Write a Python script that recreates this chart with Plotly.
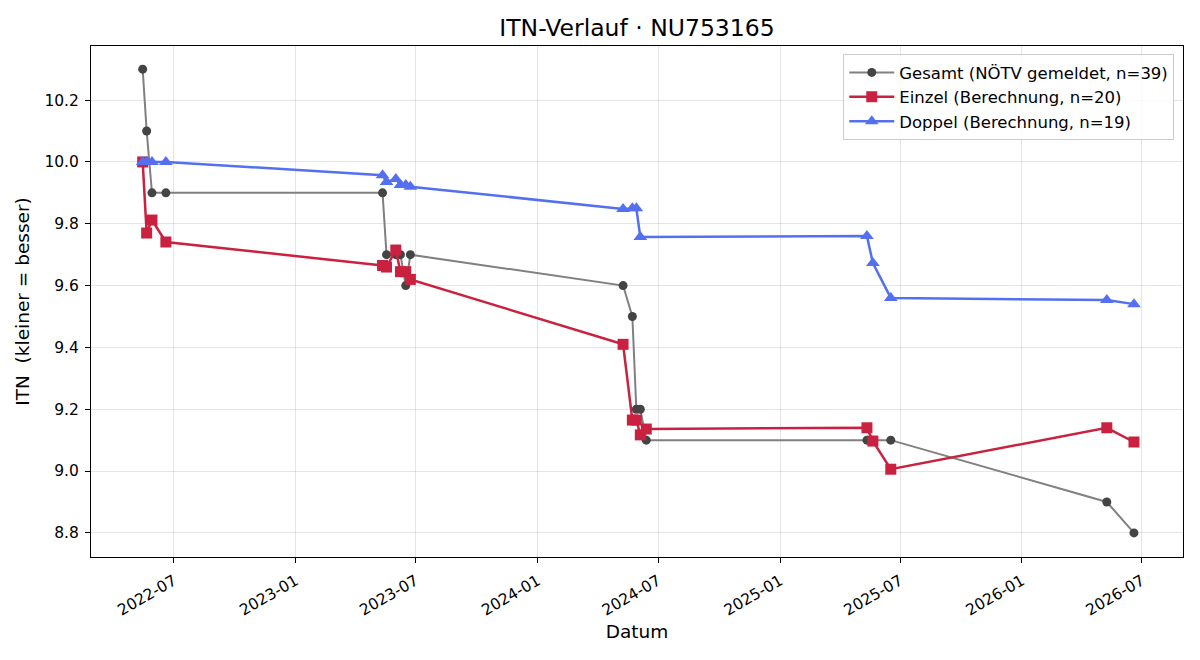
import plotly.graph_objects as go

gesamt_dates = ["2022-05-15", "2022-05-21", "2022-05-29", "2022-06-19",
                "2023-05-12", "2023-05-18", "2023-06-01", "2023-06-08", "2023-06-16", "2023-06-23",
                "2024-05-09", "2024-05-23", "2024-05-29", "2024-06-04", "2024-06-13",
                "2025-05-12", "2025-05-21", "2025-06-17",
                "2026-05-09", "2026-06-19"]
gesamt_vals = [10.3, 10.1, 9.9, 9.9,
               9.9, 9.7, 9.7, 9.7, 9.6, 9.7,
               9.6, 9.5, 9.2, 9.2, 9.1,
               9.1, 9.1, 9.1,
               8.9, 8.8]

einzel_dates = ["2022-05-15", "2022-05-21", "2022-05-29", "2022-06-19",
                "2023-05-12", "2023-05-18", "2023-06-01", "2023-06-08", "2023-06-16", "2023-06-23",
                "2024-05-09", "2024-05-23", "2024-05-29", "2024-06-04", "2024-06-13",
                "2025-05-12", "2025-05-21", "2025-06-17",
                "2026-05-09", "2026-06-19"]
einzel_vals = [10.0, 9.77, 9.812, 9.741,
               9.665, 9.66, 9.715, 9.645, 9.645, 9.62,
               9.41, 9.165, 9.165, 9.117, 9.136,
               9.14, 9.097, 9.006,
               9.14, 9.094]

doppel_dates = ["2022-05-15", "2022-05-21", "2022-05-29", "2022-06-19",
                "2023-05-12", "2023-05-18", "2023-06-01", "2023-06-08", "2023-06-16", "2023-06-23",
                "2024-05-09", "2024-05-23", "2024-05-29", "2024-06-04",
                "2025-05-12", "2025-05-21", "2025-06-17",
                "2026-05-09", "2026-06-19"]
doppel_vals = [10.0, 10.0, 10.0, 10.0,
               9.957, 9.935, 9.945, 9.925, 9.925, 9.92,
               9.848, 9.85, 9.85, 9.757,
               9.76, 9.673, 9.56,
               9.553, 9.54]

y_ticks = [8.8, 9.0, 9.2, 9.4, 9.6, 9.8, 10.0, 10.2]

FONT = "DejaVu Sans"

fig = go.Figure()
fig.add_trace(go.Scatter(
    x=gesamt_dates, y=gesamt_vals, mode="lines+markers",
    name="Gesamt (NÖTV gemeldet, n=39)",
    line=dict(color="#808080", width=2),
    marker=dict(symbol="circle", size=9, color="#444444"),
))
fig.add_trace(go.Scatter(
    x=einzel_dates, y=einzel_vals, mode="lines+markers",
    name="Einzel (Berechnung, n=20)",
    line=dict(color="#C9213F", width=2.5),
    marker=dict(symbol="square", size=11, color="#C9213F"),
))
fig.add_trace(go.Scatter(
    x=doppel_dates, y=doppel_vals, mode="lines+markers",
    name="Doppel (Berechnung, n=19)",
    line=dict(color="#5470F0", width=2.5),
    marker=dict(symbol="triangle-up", size=12, color="#5470F0"),
))

axis_common = dict(
    showline=True, linecolor="black", linewidth=1, mirror=True,
    ticks="outside", ticklen=5, tickcolor="black",
    showgrid=True, gridcolor="rgba(0,0,0,0.1)", gridwidth=1,
    zeroline=False, tickfont=dict(family=FONT, size=15.5, color="black"),
    ticklabelstandoff=3,
)

fig.update_layout(
    width=1200, height=660,
    margin=dict(l=91, r=17, t=46, b=103),
    paper_bgcolor="white", plot_bgcolor="white",
    font=dict(family=FONT, color="black"),
    title=dict(text="ITN-Verlauf · NU753165", xref="paper", x=0.5, xanchor="center",
               y=0.958, yanchor="middle", font=dict(family=FONT, size=23.5)),
    xaxis=dict(
        axis_common,
        type="date", range=["2022-02-26", "2026-09-01"],
        tick0="2022-07-01", dtick="M6", tickformat="%Y-%m", tickangle=-30,
        title=dict(text="Datum", font=dict(family=FONT, size=18.5), standoff=6),
    ),
    yaxis=dict(
        axis_common,
        range=[8.722, 10.375], tickvals=y_ticks,
        ticktext=[f"{v:.1f}" for v in y_ticks],
        title=dict(text="ITN  (kleiner = besser)", font=dict(family=FONT, size=18.5), standoff=9),
    ),
    legend=dict(
        x=0.992, y=0.984, xanchor="right", yanchor="top",
        bgcolor="rgba(255,255,255,0.8)", bordercolor="#cccccc", borderwidth=1,
        font=dict(family=FONT, size=16.5), tracegroupgap=0, itemwidth=45,
    ),
    showlegend=True,
)

fig.write_html("out.html")
